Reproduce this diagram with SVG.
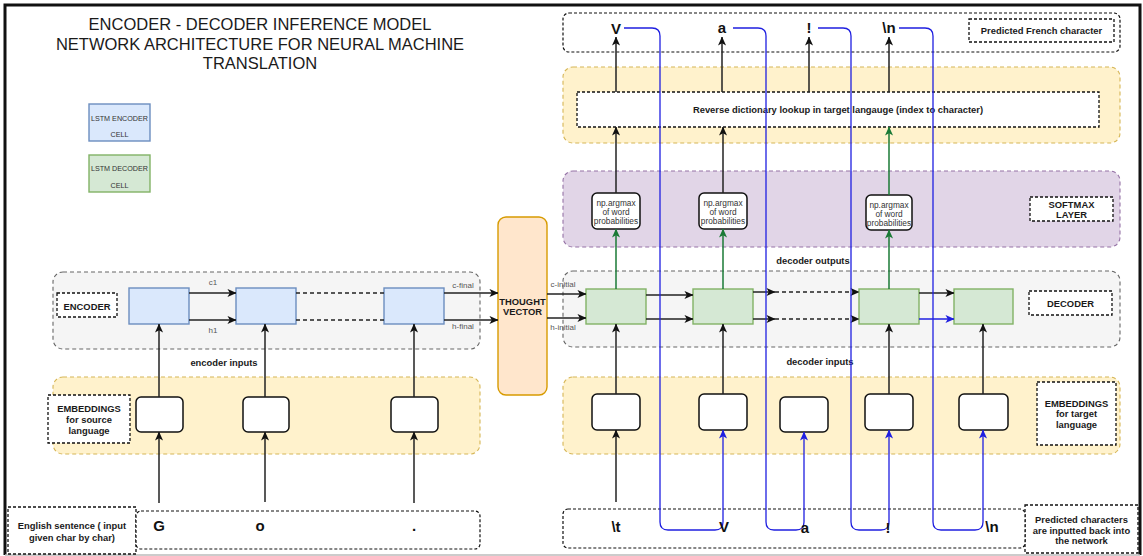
<svg xmlns="http://www.w3.org/2000/svg" width="1143" height="556" viewBox="0 0 1143 556">
<defs>
  <marker id="arrow" viewBox="0 0 10 10" refX="9.5" refY="5" markerWidth="9" markerHeight="9" markerUnits="userSpaceOnUse" orient="auto">
    <path d="M0,0.5 L10,5 L0,9.5 L2.6,5 z" fill="#111"/>
  </marker>
  <marker id="arrowBlue" viewBox="0 0 10 10" refX="9.5" refY="5" markerWidth="9" markerHeight="9" markerUnits="userSpaceOnUse" orient="auto">
    <path d="M0,0.5 L10,5 L0,9.5 L2.6,5 z" fill="#1f1fe0"/>
  </marker>
  <marker id="arrowGreen" viewBox="0 0 10 10" refX="9.5" refY="5" markerWidth="9" markerHeight="9" markerUnits="userSpaceOnUse" orient="auto">
    <path d="M0,0.5 L10,5 L0,9.5 L2.6,5 z" fill="#1a7a36"/>
  </marker>
</defs>
<style>
  text{font-family:"Liberation Sans",Arial,Helvetica,sans-serif;text-anchor:middle}
  .title{font-size:16.5px;fill:#1a1a1a}
  .lbl{font-size:9.4px;font-weight:bold;fill:#1a1a1a}
  .small{font-size:8px;fill:#555}
  .legend{font-size:7.2px;fill:#333}
  .argmax{font-size:8.3px;fill:#333}
  .char{font-size:15px;font-weight:bold;fill:#111}
  .grp{stroke-dasharray:4 3;stroke-width:1.1}
  .gray{fill:#f5f5f5;stroke:#666}
  .yellow{fill:#fff2cc;stroke:#d6b656}
  .purple{fill:#e1d5e7;stroke:#9673a6}
  .tag{fill:#fff;stroke:#111;stroke-width:1.3;stroke-dasharray:3 2}
  .seq{fill:#fff;stroke:#111;stroke-width:1.2;stroke-dasharray:3 2}
  .enc{fill:#dae8fc;stroke:#6c8ebf;stroke-width:1.4}
  .dec{fill:#d5e8d4;stroke:#82b366;stroke-width:1.4}
  .emb{fill:#fff;stroke:#111;stroke-width:1.5}
  .conn{fill:none;stroke:#222;stroke-width:1.5;marker-end:url(#arrow)}
  .dash{fill:none;stroke:#222;stroke-width:1.5;stroke-dasharray:4 3}
  .fb{fill:none;stroke:#1f1fe0;stroke-width:1.3;marker-end:url(#arrowBlue)}
  .gr{fill:none;stroke:#1a7a36;stroke-width:1.5;marker-end:url(#arrowGreen)}
</style>

<!-- outer frame -->
<path d="M5,555 V5 H1140 V555" fill="none" stroke="#111" stroke-width="3"/>
<line x1="5" y1="555" x2="1140" y2="555" stroke="#bbb" stroke-width="1.5"/>

<!-- title -->
<g id="title">
  <text class="title" x="260" y="30">ENCODER - DECODER INFERENCE MODEL</text>
  <text class="title" x="260" y="49.5">NETWORK ARCHITECTURE FOR NEURAL MACHINE</text>
  <text class="title" x="260" y="69">TRANSLATION</text>
</g>

<!-- legend -->
<g id="legend-encoder">
  <rect class="enc" x="89" y="104" width="61" height="37"/>
  <text class="legend" x="119.5" y="120.5">LSTM ENCODER</text>
  <text class="legend" x="119.5" y="137">CELL</text>
</g>
<g id="legend-decoder">
  <rect class="dec" x="89" y="155" width="61" height="37"/>
  <text class="legend" x="119.5" y="171">LSTM DECODER</text>
  <text class="legend" x="119.5" y="187.5">CELL</text>
</g>

<!-- containers -->
<g id="encoder-group">
  <rect class="grp gray" x="53" y="272" width="427" height="77" rx="10"/>
</g>
<g id="source-embeddings-group">
  <rect class="grp yellow" x="53" y="377" width="427" height="77" rx="10"/>
</g>
<g id="french-output-group">
  <rect class="seq" x="563" y="13" width="557" height="39" rx="6"/>
</g>
<g id="lookup-group">
  <rect class="grp yellow" x="563" y="67" width="557" height="76" rx="10"/>
</g>
<g id="softmax-group">
  <rect class="grp purple" x="563" y="171" width="557" height="76" rx="10"/>
</g>
<g id="decoder-group">
  <rect class="grp gray" x="563" y="271" width="557" height="76" rx="10"/>
</g>
<g id="target-embeddings-group">
  <rect class="grp yellow" x="563" y="377" width="557" height="77" rx="10"/>
</g>

<!-- tags -->
<g id="tag-encoder">
  <rect class="tag" x="57" y="293" width="60" height="24"/>
  <text class="lbl" x="87" y="309.5">ENCODER</text>
</g>
<g id="tag-source-embeddings">
  <rect class="tag" x="48" y="395" width="82" height="48"/>
  <text class="lbl" x="89" y="412">EMBEDDINGS</text>
  <text class="lbl" x="89" y="423">for source</text>
  <text class="lbl" x="89" y="434">language</text>
</g>
<g id="tag-english">
  <rect class="tag" x="8" y="507" width="128" height="47"/>
  <text class="lbl" x="72" y="529">English sentence ( input</text>
  <text class="lbl" x="72" y="541">given char by char)</text>
</g>
<g id="tag-french">
  <rect class="tag" x="969" y="19" width="145" height="23"/>
  <text class="lbl" x="1041.5" y="34">Predicted French character</text>
</g>
<g id="tag-softmax">
  <rect class="tag" x="1030" y="197" width="83" height="24"/>
  <text class="lbl" x="1071.5" y="207.5">SOFTMAX</text>
  <text class="lbl" x="1071.5" y="217.5">LAYER</text>
</g>
<g id="tag-decoder">
  <rect class="tag" x="1029" y="291" width="83" height="24"/>
  <text class="lbl" x="1070.5" y="306.5">DECODER</text>
</g>
<g id="tag-target-embeddings">
  <rect class="tag" x="1037" y="382" width="79" height="63"/>
  <text class="lbl" x="1076.5" y="406.5">EMBEDDINGS</text>
  <text class="lbl" x="1076.5" y="417">for target</text>
  <text class="lbl" x="1076.5" y="427.5">language</text>
</g>
<g id="tag-feedback">
  <rect class="tag" x="1025" y="505" width="113" height="48"/>
  <text class="lbl" x="1081.5" y="523">Predicted characters</text>
  <text class="lbl" x="1081.5" y="533.5">are inputted back into</text>
  <text class="lbl" x="1081.5" y="544">the network</text>
</g>

<!-- input / output sequences -->
<g id="source-sequence">
  <rect class="seq" x="136" y="511" width="344" height="38" rx="5"/>
  <text class="char" x="159" y="531">G</text>
  <text class="char" x="260" y="531">o</text>
  <text class="char" x="414" y="531">.</text>
</g>
<g id="target-sequence">
  <rect class="seq" x="563" y="509" width="462" height="39" rx="5"/>
  <text class="char" x="616" y="532">\t</text>
</g>

<!-- encoder cells -->
<g id="enc-cell-1"><rect class="enc" x="129" y="288" width="60" height="36"/></g>
<g id="enc-cell-2"><rect class="enc" x="236" y="288" width="60" height="36"/></g>
<g id="enc-cell-3"><rect class="enc" x="384" y="288" width="60" height="36"/></g>

<!-- source embeddings -->
<g id="src-emb-1"><rect class="emb" x="136" y="397" width="47" height="35" rx="5"/></g>
<g id="src-emb-2"><rect class="emb" x="243" y="397" width="46" height="35" rx="5"/></g>
<g id="src-emb-3"><rect class="emb" x="391" y="397" width="47" height="35" rx="5"/></g>

<!-- thought vector -->
<g id="thought-vector">
  <rect x="498" y="217" width="49" height="178" rx="8" fill="#ffe6cc" stroke="#d79b00" stroke-width="1.4"/>
  <text class="lbl" x="522.5" y="305">THOUGHT</text>
  <text class="lbl" x="522.5" y="314.5">VECTOR</text>
</g>

<!-- decoder cells -->
<g id="dec-cell-1"><rect class="dec" x="586" y="289" width="60" height="35"/></g>
<g id="dec-cell-2"><rect class="dec" x="693" y="289" width="60" height="35"/></g>
<g id="dec-cell-3"><rect class="dec" x="859" y="289" width="60" height="35"/></g>
<g id="dec-cell-4"><rect class="dec" x="954" y="289" width="59" height="35"/></g>

<!-- target embeddings -->
<g id="tgt-emb-1"><rect class="emb" x="592" y="394" width="48" height="36" rx="5"/></g>
<g id="tgt-emb-2"><rect class="emb" x="699" y="394" width="48" height="36" rx="5"/></g>
<g id="tgt-emb-3"><rect class="emb" x="780" y="397" width="48" height="35" rx="5"/></g>
<g id="tgt-emb-4"><rect class="emb" x="865" y="394" width="48" height="36" rx="5"/></g>
<g id="tgt-emb-5"><rect class="emb" x="959" y="394" width="49" height="36" rx="5"/></g>

<!-- softmax argmax nodes -->
<g id="argmax-1">
  <rect class="emb" x="592" y="193" width="48" height="36" rx="5"/>
  <text class="argmax" x="616" y="206">np.argmax</text>
  <text class="argmax" x="616" y="215">of word</text>
  <text class="argmax" x="616" y="224">probabilities</text>
</g>
<g id="argmax-2">
  <rect class="emb" x="699" y="193" width="48" height="36" rx="5"/>
  <text class="argmax" x="723" y="206">np.argmax</text>
  <text class="argmax" x="723" y="215">of word</text>
  <text class="argmax" x="723" y="224">probabilities</text>
</g>
<g id="argmax-3">
  <rect class="emb" x="866" y="195" width="46" height="35" rx="5"/>
  <text class="argmax" x="889" y="208">np.argmax</text>
  <text class="argmax" x="889" y="217">of word</text>
  <text class="argmax" x="889" y="226">probabilities</text>
</g>

<!-- reverse lookup -->
<g id="reverse-lookup">
  <rect class="tag" x="577" y="92" width="522" height="35"/>
  <text class="lbl" x="838" y="113">Reverse dictionary lookup in target langauge (index to character)</text>
</g>

<!-- predicted characters -->
<g id="predicted-chars">
  <text class="char" x="616" y="33.5">V</text>
  <text class="char" x="722" y="33">a</text>
  <text class="char" x="809" y="33">!</text>
  <text class="char" x="889" y="33">\n</text>
</g>

<!-- free labels -->
<g id="edge-labels">
  <text class="small" x="213" y="285">c1</text>
  <text class="small" x="213" y="333">h1</text>
  <text class="small" x="463" y="288">c-final</text>
  <text class="small" x="463" y="329">h-final</text>
  <text class="small" x="563" y="287">c-initial</text>
  <text class="small" x="563" y="330">h-initial</text>
  <text class="lbl" x="224" y="366">encoder inputs</text>
  <text class="lbl" x="813" y="264">decoder outputs</text>
  <text class="lbl" x="820" y="365">decoder inputs</text>
</g>

<!-- connectors -->
<g id="connectors">
  <!-- encoder states -->
  <path class="conn" d="M189,293 H236"/>
  <path class="conn" d="M189,320 H236"/>
  <path class="dash" d="M296,293 H384"/>
  <path class="dash" d="M296,320 H384"/>
  <path class="conn" d="M444,293 H498"/>
  <path class="conn" d="M444,320 H498"/>
  <!-- encoder inputs -->
  <path class="conn" d="M159,397 V324"/>
  <path class="conn" d="M265,397 V324"/>
  <path class="conn" d="M414,397 V324"/>
  <path class="conn" d="M159,503 V432"/>
  <path class="conn" d="M265,502 V432"/>
  <path class="conn" d="M414,503 V432"/>
  <!-- thought vector to decoder -->
  <path class="conn" d="M547,294 H586"/>
  <path class="conn" d="M547,318 H586"/>
  <!-- decoder states -->
  <path class="conn" d="M646,295 H693"/>
  <path class="conn" d="M646,319 H693"/>
  <path class="conn" d="M753,292 H775"/>
  <path class="conn" d="M753,319 H775"/>
  <path class="dash" d="M775,292 H859" marker-end="url(#arrow)"/>
  <path class="dash" d="M775,319 H859" marker-end="url(#arrow)"/>
  <path class="conn" d="M919,293 H954"/>
  <path class="fb" d="M919,319 H954"/>
  <!-- decoder inputs -->
  <path class="conn" d="M616,394 V324"/>
  <path class="conn" d="M723,394 V324"/>
  <path class="conn" d="M889,394 V324"/>
  <path class="conn" d="M983,394 V324"/>
  <path class="conn" d="M616,502 V430"/>
  <!-- decoder outputs to softmax -->
  <path class="gr" d="M616,289 V229"/>
  <path class="gr" d="M723,289 V229"/>
  <path class="gr" d="M889,289 V230"/>
  <!-- softmax to lookup -->
  <path class="conn" d="M616,193 V127"/>
  <path class="conn" d="M723,193 V127"/>
  <path class="gr" d="M889,195 V127"/>
  <!-- lookup to characters -->
  <path class="conn" d="M616,92 V37"/>
  <path class="conn" d="M722,92 V37"/>
  <path class="conn" d="M809,92 V37"/>
  <path class="conn" d="M889,92 V37"/>
  <!-- feedback of predicted characters -->
  <path class="fb" d="M624,28 H652 Q660,28 660,36 V522 Q660,530 668,530 H715 Q723,530 723,522 V430"/>
  <path class="fb" d="M733,28 H758 Q766,28 766,36 V522 Q766,530 774,530 H796 Q804,530 804,522 V432"/>
  <path class="fb" d="M818,28 H843 Q851,28 851,36 V522 Q851,530 859,530 H881 Q889,530 889,522 V430"/>
  <path class="fb" d="M899,28 H925 Q933,28 933,36 V522 Q933,530 941,530 H975 Q983,530 983,522 V430"/>
</g>

<!-- fed-back characters -->
<g id="fed-back-chars">
  <text class="char" x="724" y="532">V</text>
  <text class="char" x="805" y="533">a</text>
  <text class="char" x="888" y="533">!</text>
  <text class="char" x="992" y="532">\n</text>
</g>
</svg>
